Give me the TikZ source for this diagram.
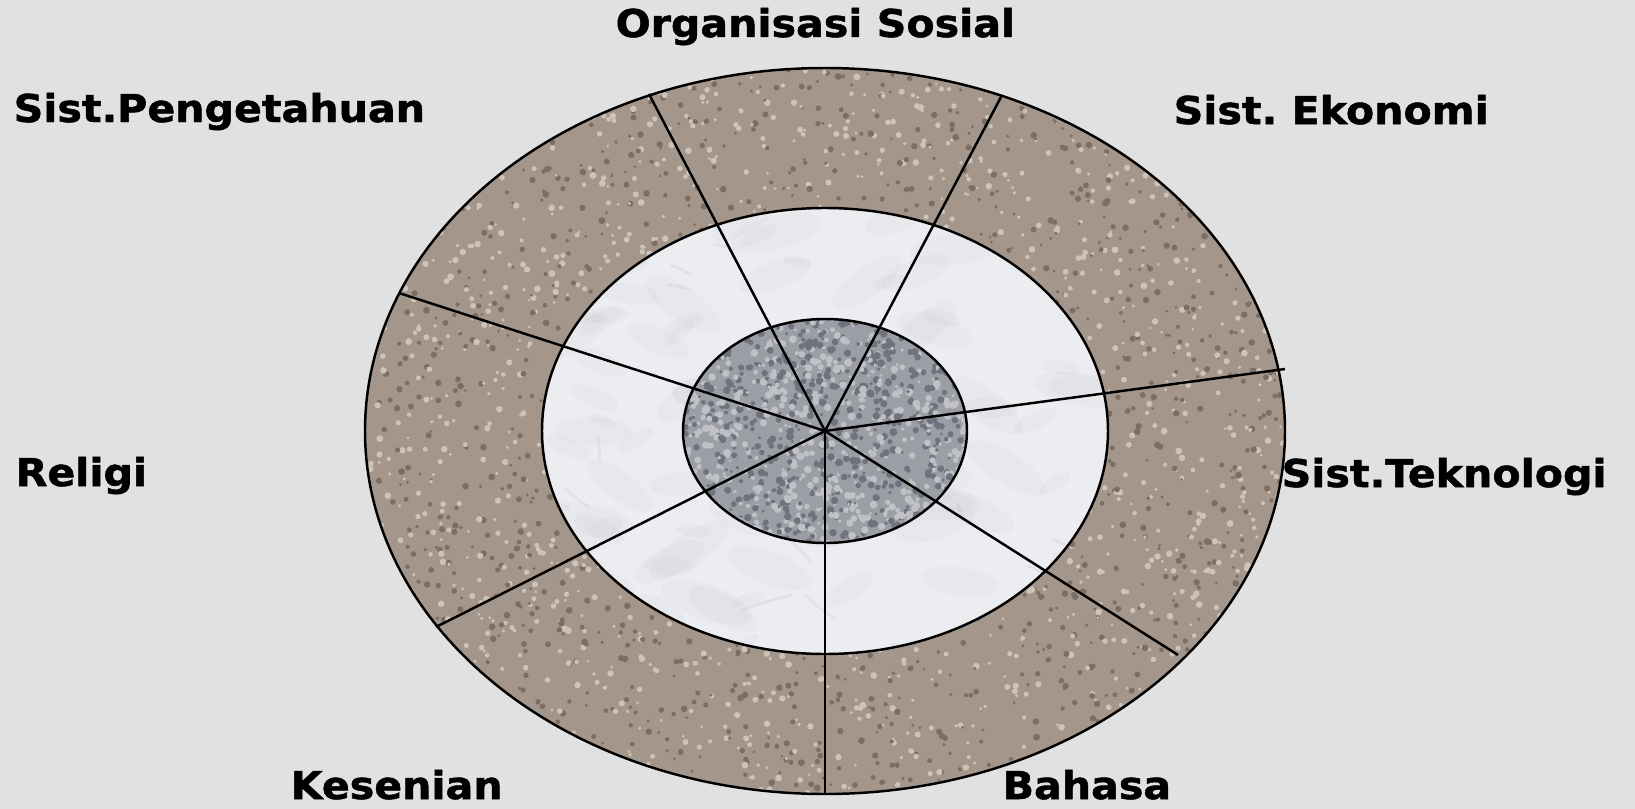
\documentclass[tikz,border=0pt]{standalone}
\usepackage{fontspec}
\setmainfont{DejaVu Sans}
\newfontfamily\lblfont{DejaVu Sans Bold}[FakeBold=1.3]
\definecolor{bgc}{RGB}{225,225,226}
\definecolor{ringc}{RGB}{164,150,139}
\definecolor{sdark}{RGB}{125,110,100}
\definecolor{slight}{RGB}{205,195,184}
\definecolor{marble}{RGB}{236,237,240}
\definecolor{vein}{RGB}{135,137,146}
\definecolor{corec}{RGB}{156,158,165}
\definecolor{cdark}{RGB}{112,115,125}
\definecolor{clight}{RGB}{192,193,199}
\begin{document}
\begin{tikzpicture}[x=0.01cm,y=-0.01cm,
  lbl/.style={font=\fontsize{11.7}{14}\lblfont, inner sep=0, anchor=base west, yscale=0.93},
  rim/.style={draw=black, line width=0.7pt},
  spoke/.style={draw=black, line width=0.7pt}]
\useasboundingbox (0,0) rectangle (1635,809);
\fill[bgc] (0,0) rectangle (1635,809);
\coordinate (c) at (825,431);
% outer ring texture
\pgfmathsetseed{4242}
\begin{scope}
  \clip (c) ellipse [x radius=460, y radius=363];
  \fill[ringc] (c) ellipse [x radius=460, y radius=363];
  \foreach \i in {1,...,3600}{
    \pgfmathsetmacro\px{365+920*rnd}
    \pgfmathsetmacro\py{68+727*rnd}
    \pgfmathsetmacro\pr{1.4+2*rnd}
    \pgfmathtruncatemacro\pk{rnd<0.5}
    \ifnum\pk=1
      \fill[sdark] (\px,\py) circle [radius=\pr];
    \else
      \fill[slight] (\px,\py) circle [radius=\pr];
    \fi
  }
\end{scope}
% middle marble
\begin{scope}
  \clip (c) ellipse [x radius=283, y radius=223];
  \fill[marble] (c) ellipse [x radius=283, y radius=223];
  \foreach \i in {1,...,90}{
    \pgfmathsetmacro\px{545+560*rnd}
    \pgfmathsetmacro\py{210+440*rnd}
    \pgfmathsetmacro\pr{6+16*rnd}
    \pgfmathsetmacro\pa{-40+80*rnd}
    \fill[vein, opacity=0.045, rotate around={\pa:(\px,\py)}] (\px,\py) ellipse [x radius=\pr*2.2, y radius=\pr*0.8];
  }
  \foreach \i in {1,...,25}{
    \pgfmathsetmacro\px{545+560*rnd}
    \pgfmathsetmacro\py{210+440*rnd}
    \pgfmathsetmacro\dx{-60+120*rnd}
    \pgfmathsetmacro\dy{-40+80*rnd}
    \draw[vein, opacity=0.1, line width=0.8pt, line cap=round]
      (\px,\py) .. controls ++(\dx*0.4,\dy*0.3) .. ++(\dx,\dy);
  }
\end{scope}
% inner core
\begin{scope}
  \clip (c) ellipse [x radius=142, y radius=112];
  \fill[corec] (c) ellipse [x radius=142, y radius=112];
  \foreach \i in {1,...,1300}{
    \pgfmathsetmacro\px{683+284*rnd}
    \pgfmathsetmacro\py{319+224*rnd}
    \pgfmathsetmacro\pr{1.5+2.5*rnd}
    \pgfmathtruncatemacro\pk{rnd<0.5}
    \ifnum\pk=1
      \fill[cdark] (\px,\py) circle [radius=\pr];
    \else
      \fill[clight] (\px,\py) circle [radius=\pr];
    \fi
  }
\end{scope}
% outlines
\draw[rim] (c) ellipse [x radius=460, y radius=363];
\draw[rim] (c) ellipse [x radius=283, y radius=223];
\draw[rim] (c) ellipse [x radius=142, y radius=112];
% spokes
\coordinate (e1) at (649,94);
\coordinate (e2) at (1001,97);
\coordinate (e3) at (1285,369);
\coordinate (e4) at (1178,655);
\coordinate (e5) at (825,795);
\coordinate (e6) at (436,627);
\coordinate (e7) at (399,293);
\foreach \e in {e1,e2,e3,e4,e5,e6,e7}{ \draw[spoke] (c) -- (\e); }
% labels
\node[lbl] (lorg) at (615,37) {Organisasi Sosial};
\node[lbl] (lpen) at (13,122) {Sist.Pengetahuan};
\node[lbl] (leko) at (1173,124) {Sist.\ Ekonomi};
\node[lbl] (lrel) at (15,486) {Religi};
\node[lbl] (ltek) at (1281,487) {Sist.Teknologi};
\node[lbl] (lkes) at (290,799) {Kesenian};
\node[lbl] (lbah) at (1002,799) {Bahasa};
\end{tikzpicture}
\end{document}
